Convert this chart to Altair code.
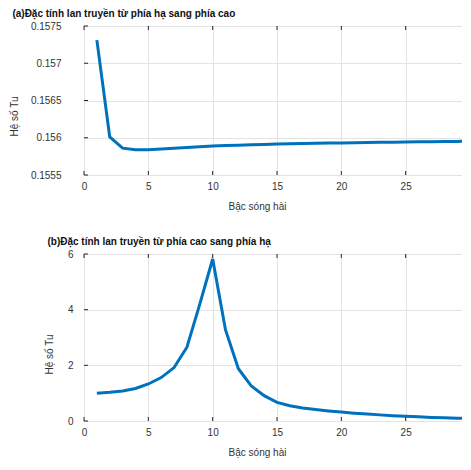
import altair as alt
import pandas as pd

harmonic = [1, 2, 3, 4, 5, 6, 7, 8, 9, 10, 11, 12, 13, 14, 15,
            16, 17, 18, 19, 20, 21, 22, 23, 24, 25, 26, 27, 28, 29, 30]

tu_low_to_high = [0.15731, 0.15601, 0.15586, 0.15584, 0.15584, 0.15585, 0.15586, 0.15587,
                  0.15588, 0.15589, 0.155895, 0.1559, 0.155905, 0.15591, 0.155915, 0.15592,
                  0.155922, 0.155925, 0.155928, 0.15593, 0.155933, 0.155936, 0.155939,
                  0.155941, 0.155943, 0.155945, 0.155947, 0.155949, 0.155951, 0.155953]

tu_high_to_low = [1.00, 1.03, 1.08, 1.17, 1.33, 1.56, 1.92, 2.65, 4.2, 5.82, 3.27, 1.88,
                  1.26, 0.91, 0.67, 0.55, 0.47, 0.41, 0.36, 0.32, 0.28, 0.25, 0.22, 0.19,
                  0.17, 0.15, 0.13, 0.12, 0.10, 0.09]

x_ticks = [0, 5, 10, 15, 20, 25, 30]
y_ticks_a = [0.1555, 0.156, 0.1565, 0.157, 0.1575]
y_ticks_b = [0, 2, 4, 6]

title_a = "(a)Đặc tính lan truyền từ phía hạ sang phía cao"
title_b = "(b)Đặc tính lan truyền từ phía cao sang phía hạ"
x_title = "Bậc sóng hài"
y_title = "Hệ số Tu"

FONT = "Liberation Sans"
TXT = "#333333"
LINE = "#0072BD"
W = 386


def panel(values, y_ticks, ydom, h, title, label_pad, title_pad, y_fmt, title_y):
    df = pd.DataFrame({"h": harmonic, "tu": values})
    xscale = alt.Scale(domain=[0, 30], nice=False, zero=False)
    yscale = alt.Scale(domain=ydom, nice=False, zero=False)
    xaxis = alt.Axis(values=x_ticks, grid=True, gridColor="#e3e3e3", tickSize=0,
                     labelPadding=6, labelFontSize=10, labelFont=FONT, labelColor=TXT,
                     title=x_title, titleFont=FONT, titleFontSize=10, titleFontWeight="normal",
                     titleColor=TXT, titlePadding=10, titleX=173, domain=False,
                     labelFlush=False, labelOverlap=False)
    yaxis = alt.Axis(values=y_ticks, grid=True, gridColor="#e3e3e3", tickSize=0,
                     labelPadding=label_pad, labelFontSize=10, labelFont=FONT, labelColor=TXT,
                     format=y_fmt, title=y_title, titleFont=FONT, titleFontSize=10,
                     titleFontWeight="normal", titleColor=TXT, titlePadding=title_pad,
                     titleY=title_y, domain=False, labelFlush=False, labelOverlap=False)
    line = alt.Chart(df).mark_line(color=LINE, strokeWidth=3, clip=True).encode(
        x=alt.X("h:Q", scale=xscale, axis=xaxis),
        y=alt.Y("tu:Q", scale=yscale, axis=yaxis),
    )
    xt = pd.DataFrame({"v": x_ticks})
    yt = pd.DataFrame({"v": y_ticks})
    tick_style = dict(color="#262626", strokeWidth=1)
    xb = alt.Chart(xt).mark_rule(**tick_style).encode(
        x=alt.X("v:Q", scale=xscale, axis=xaxis), y=alt.value(h), y2=alt.value(h - 4))
    xtop = alt.Chart(xt).mark_rule(**tick_style).encode(
        x=alt.X("v:Q", scale=xscale, axis=xaxis), y=alt.value(0), y2=alt.value(4))
    yl = alt.Chart(yt).mark_rule(**tick_style).encode(
        y=alt.Y("v:Q", scale=yscale, axis=yaxis), x=alt.value(0), x2=alt.value(4))
    yr = alt.Chart(yt).mark_rule(**tick_style).encode(
        y=alt.Y("v:Q", scale=yscale, axis=yaxis), x=alt.value(W - 4), x2=alt.value(W))
    return alt.layer(line, xb, xtop, yl, yr).properties(
        width=W, height=h,
        title=alt.TitleParams(title, anchor="start", fontSize=10, font=FONT,
                              fontWeight="bold", color="#111111", offset=2, dx=3),
    )


top = panel(tu_low_to_high, y_ticks_a, [0.1555, 0.1575], 149, title_a, 23, 11, "~g", 90)
bottom = panel(tu_high_to_low, y_ticks_b, [0, 6], 167, title_b, 11, 13, "d", 100)

chart = alt.vconcat(top, bottom, spacing=24).properties(
    padding={"top": 0, "left": 0, "right": -15, "bottom": 0}
).configure_view(stroke="#262626", strokeWidth=1)

chart.save("out.html", embed_options={"renderer": "svg", "actions": False})
